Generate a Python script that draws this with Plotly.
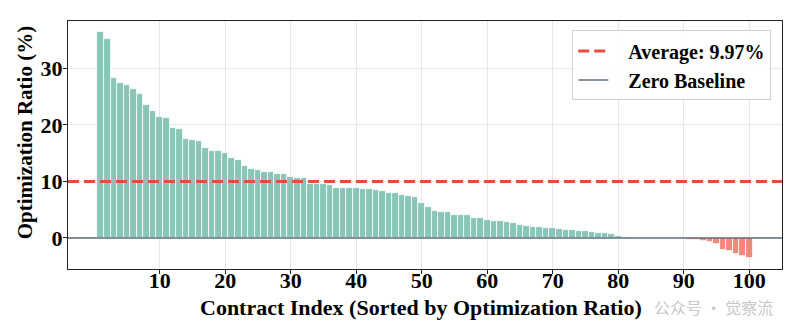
import plotly.graph_objects as go

# ---- data ----
contract_index = list(range(1, 101))
optimization_ratio = [
    36.4, 35.3, 28.3, 27.5, 27.0, 26.4, 25.4, 23.6, 22.5, 21.4,
    21.2, 19.45, 19.3, 17.6, 17.4, 17.2, 16.0, 15.45, 15.4, 15.0,
    14.2, 13.8, 12.7, 12.25, 11.95, 11.75, 11.6, 11.4, 11.3, 10.7,
    10.6, 10.6, 9.6, 9.55, 9.5, 9.35, 8.9, 8.9, 8.85, 8.85,
    8.7, 8.65, 8.45, 8.3, 8.0, 7.9, 7.65, 7.5, 7.2, 6.2,
    5.4, 4.8, 4.62, 4.57, 4.1, 4.1, 4.1, 3.58, 3.47, 3.23,
    3.05, 3.05, 2.88, 2.7, 2.35, 2.05, 1.94, 1.88, 1.82, 1.76,
    1.58, 1.47, 1.35, 1.3, 1.17, 1.06, 0.88, 0.8, 0.76, 0.38,
    0.15, 0.06, 0.04, 0.03, 0.03, 0.02, 0.02, 0.01, 0.01, 0.0,
    -0.38, -0.4, -0.5, -0.7, -1.06, -2.2, -2.33, -2.82, -3.25, -3.6,
]
average_value = 9.97
zero_value = 0.0
x_ticks = [10, 20, 30, 40, 50, 60, 70, 80, 90, 100]
y_ticks = [0, 10, 20, 30]
x_range = [-4.0, 105.0]
y_range = [-5.5, 38.4]
x_title = "Contract Index (Sorted by Optimization Ratio)"
y_title = "Optimization Ratio (%)"

POS_COLOR = "#88c6b8"
NEG_COLOR = "#f4867a"
AVG_COLOR = "#e74c3c"
ZERO_COLOR = "#5d6d7e"
FONT = "Liberation Serif"
PAD = "\u00a0\u00a0\u00a0"

bar_colors = [POS_COLOR if v >= 0 else NEG_COLOR for v in optimization_ratio]

fig = go.Figure()
fig.add_trace(go.Bar(
    x=contract_index, y=optimization_ratio,
    marker=dict(color=bar_colors, line=dict(color="white", width=0.8)),
    width=1.0, showlegend=False,
))
fig.add_trace(go.Scatter(
    x=x_range, y=[average_value, average_value], mode="lines",
    line=dict(color=AVG_COLOR, width=3, dash="11px,5px"),
    name=f"{PAD}Average: {average_value:.2f}%",
))
fig.add_trace(go.Scatter(
    x=x_range, y=[zero_value, zero_value], mode="lines",
    line=dict(color=ZERO_COLOR, width=1.5),
    name=f"{PAD}Zero Baseline",
))

tickfont = dict(family=FONT, size=22, color="black", weight="bold")
label_axis = dict(
    showline=True, linecolor="#222222", linewidth=1.3, mirror=True,
    ticks="", showgrid=True, gridcolor="#e6e6e6", gridwidth=1,
    zeroline=False, tickfont=tickfont,
)
mark_axis = dict(
    ticks="outside", ticklen=4, tickcolor="#222222", tickwidth=1.2,
    showticklabels=False, showgrid=False, zeroline=False, showline=False,
)

fig.update_layout(
    width=795, height=333,
    margin=dict(l=68, r=13, t=21, b=64),
    paper_bgcolor="white", plot_bgcolor="white",
    bargap=0,
    font=dict(family=FONT, color="black"),
    xaxis=dict(range=x_range, tickvals=x_ticks, ticklabelstandoff=-9, **label_axis),
    yaxis=dict(range=y_range, tickvals=y_ticks, **label_axis),
    xaxis2=dict(range=x_range, tickvals=x_ticks, overlaying="x", side="bottom",
                anchor="y", **mark_axis),
    yaxis2=dict(range=y_range, tickvals=y_ticks, overlaying="y", side="left",
                anchor="x", **mark_axis),
    legend=dict(
        x=0.985, y=0.962, xanchor="right", yanchor="top",
        bgcolor="rgba(255,255,255,0.9)", bordercolor="#d0d0d0", borderwidth=1,
        font=dict(family=FONT, size=20, color="black", weight="bold"),
        tracegroupgap=0,
    ),
    annotations=[
        dict(text=f"<b>{x_title}</b>", xref="paper", yref="paper",
             x=0.495, y=-0.155, xanchor="center", yanchor="middle",
             showarrow=False, font=dict(family=FONT, size=22, color="black")),
        dict(text=f"<b>{y_title}</b>", xref="paper", yref="paper",
             x=-0.0606, y=0.55, xanchor="center", yanchor="middle", textangle=-90,
             showarrow=False, font=dict(family=FONT, size=21, color="black")),
        dict(text="公众号 · 觉察流", xref="paper", yref="paper",
             x=0.99, y=-0.095, xanchor="right", yanchor="top", showarrow=False,
             font=dict(family="Noto Sans CJK SC", size=16, color="#c8c8c8")),
    ],
)
# invisible trace so the tick-mark axes are rendered
fig.add_trace(go.Scatter(x=[x_ticks[0]], y=[y_ticks[0]], xaxis="x2", yaxis="y2",
                         mode="markers", marker=dict(opacity=0), showlegend=False,
                         hoverinfo="skip"))

fig.write_html("out.html")
